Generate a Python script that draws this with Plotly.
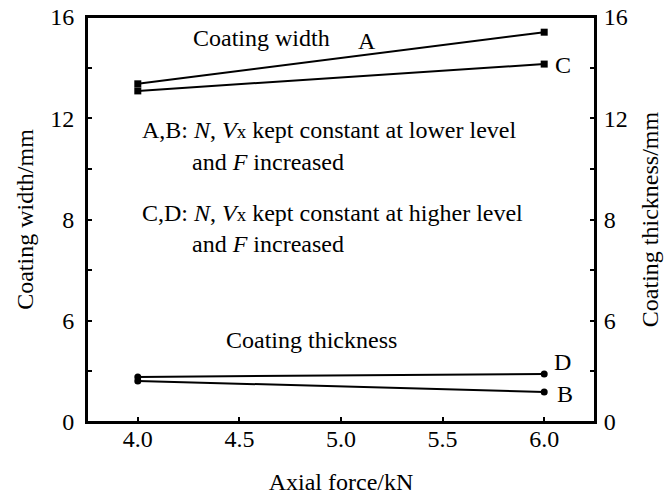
import plotly.graph_objects as go

axial_force = [4.0, 6.0]
width_A = [13.36, 15.40]
width_C = [13.08, 14.14]
thick_B = [1.62, 1.19]
thick_D = [1.78, 1.90]

y_tickvals = [0, 4, 8, 12, 16]
y_ticktext = ["0", "6", "8", "12", "16"]
x_tickvals = [4.0, 4.5, 5.0, 5.5, 6.0]
x_ticktext = ["4.0", "4.5", "5.0", "5.5", "6.0"]

FONT = "Liberation Serif, Times New Roman, serif"
FS = 24

fig = go.Figure()
line = dict(color="black", width=2)
fig.add_trace(go.Scatter(x=axial_force, y=width_A, mode="lines+markers", line=line,
                         marker=dict(symbol="square", size=7, color="black"), yaxis="y"))
fig.add_trace(go.Scatter(x=axial_force, y=width_C, mode="lines+markers", line=line,
                         marker=dict(symbol="square", size=7, color="black"), yaxis="y"))
fig.add_trace(go.Scatter(x=axial_force, y=thick_B, mode="lines+markers", line=line,
                         marker=dict(symbol="circle", size=7, color="black"), yaxis="y2"))
fig.add_trace(go.Scatter(x=axial_force, y=thick_D, mode="lines+markers", line=line,
                         marker=dict(symbol="circle", size=7, color="black"), yaxis="y2"))

yax = dict(range=[0, 16], tickvals=y_tickvals, ticktext=y_ticktext, ticks="",
           showgrid=False, zeroline=False, showline=True, linecolor="black", linewidth=2,
           automargin=False, ticklabeloverflow="allow",
           minor=dict(tick0=0, dtick=2, ticks="inside", ticklen=5, tickcolor="black", tickwidth=1.5),
           tickfont=dict(family=FONT, size=FS, color="black"))

fig.update_layout(
    width=667, height=500,
    margin=dict(l=87, r=72, t=17, b=78),
    paper_bgcolor="white", plot_bgcolor="white",
    showlegend=False,
    font=dict(family=FONT, size=FS, color="black"),
    xaxis=dict(range=[3.75, 6.25], tickvals=x_tickvals, ticktext=x_ticktext,
               ticks="inside", ticklen=5, tickcolor="black", tickwidth=1.5,
               showgrid=False, zeroline=False, showline=True, mirror=True,
               linecolor="black", linewidth=2, automargin=False,
               ticklabelstandoff=-6, ticklabeloverflow="allow",
               tickfont=dict(family=FONT, size=FS, color="black"),
               title=dict(text="Axial force/kN", font=dict(family=FONT, size=FS), standoff=22)),
    yaxis=dict(**yax, side="left", mirror=False, ticklabelstandoff=6,
               title=dict(text="Coating width/mm", font=dict(family=FONT, size=FS), standoff=10)),
    yaxis2=dict(**yax, side="right", overlaying="y", ticklabelstandoff=2,
                title=dict(text="Coating thickness/mm", font=dict(family=FONT, size=FS), standoff=14)),
)

fig.add_shape(type="rect", xref="paper", yref="paper", x0=0, x1=1, y0=0, y1=1,
              line=dict(color="black", width=2), fillcolor="rgba(0,0,0,0)", layer="above")

anns = [
    dict(x=4.611, y=15.17, text="Coating width", xanchor="center"),
    dict(x=5.128, y=15.05, text="A", xanchor="center"),
    dict(x=6.093, y=14.10, text="C", xanchor="center"),
    dict(x=6.088, y=2.37, text="D", xanchor="center"),
    dict(x=6.102, y=1.11, text="B", xanchor="center"),
    dict(x=4.857, y=3.24, text="Coating thickness", xanchor="center"),
    dict(x=4.011, y=11.54, text="A,B: <i>N</i>, <i>V</i><span style='font-size:19px'>x</span> kept constant at lower level", xanchor="left"),
    dict(x=4.257, y=10.27, text="and <i>F</i> increased", xanchor="left"),
    dict(x=4.011, y=8.26, text="C,D: <i>N</i>, <i>V</i><span style='font-size:19px'>x</span> kept constant at higher level", xanchor="left"),
    dict(x=4.257, y=7.03, text="and <i>F</i> increased", xanchor="left"),
]
for a in anns:
    fig.add_annotation(xref="x", yref="y", showarrow=False, yanchor="middle",
                       font=dict(family=FONT, size=FS, color="black"), **a)

# remove the page's default 8px body margin so the 667x500 figure fills the window
fig.write_html("out.html", config={"displayModeBar": False},
               post_script="document.body.style.margin='0';")
